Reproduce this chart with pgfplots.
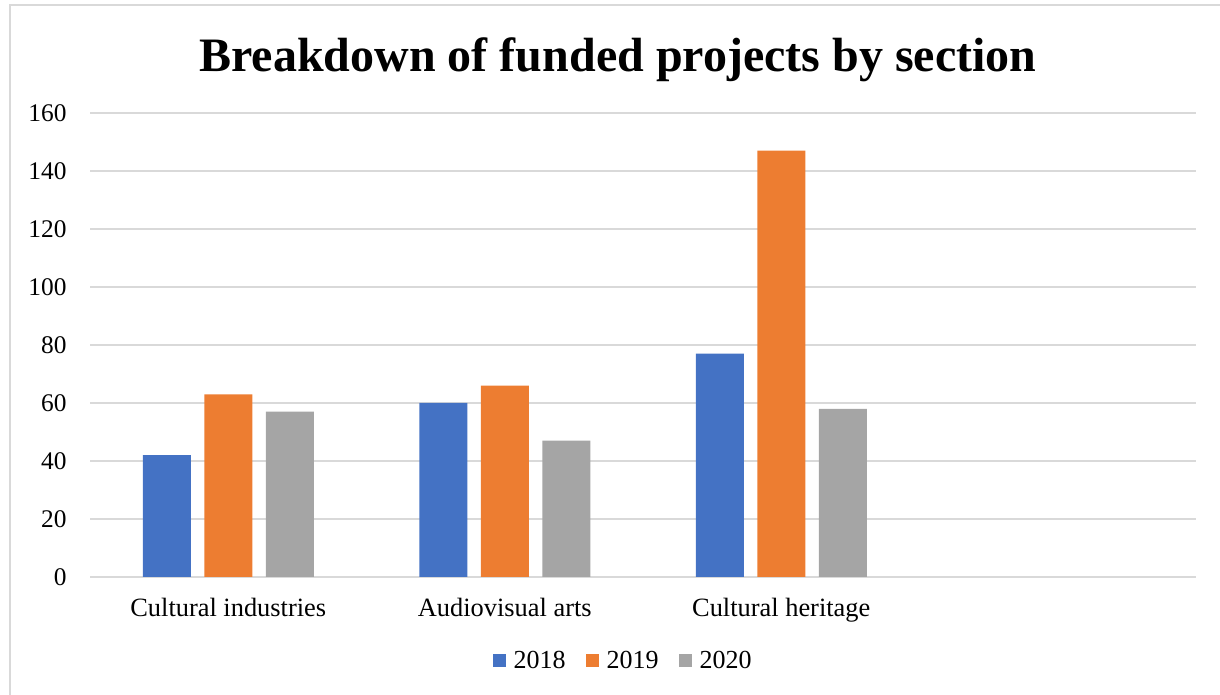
\documentclass[border=0pt]{standalone}
\usepackage{fontspec}
\setmainfont{Liberation Serif}
\usepackage{pgfplots}
\pgfplotsset{compat=1.18}
\definecolor{cblue}{HTML}{4472C4}
\definecolor{corange}{HTML}{ED7D31}
\definecolor{cgray}{HTML}{A5A5A5}
\definecolor{gridgray}{HTML}{D9D9D9}
\begin{document}
\begin{tikzpicture}
\useasboundingbox (0pt,0pt) rectangle (610pt,347.5pt);
\draw[gridgray, line width=1.2pt] (5pt,0pt) -- (5pt,345pt) -- (610pt,345pt);
\node[anchor=base, inner sep=0pt] at (309pt,311.5pt) {\fontsize{24}{28}\selectfont\bfseries Breakdown of funded projects by section};
\begin{axis}[
  at={(45pt,59pt)}, anchor=south west,
  scale only axis, width=553pt, height=232pt,
  ybar=6.75pt, bar width=24pt,
  xmin=-0.5, xmax=3.5, ymin=0, ymax=160,
  xtick={0,1,2},
  xticklabels={Cultural industries, Audiovisual arts, Cultural heritage},
  ytick={0,20,...,160},
  ymajorgrids, major grid style={color=gridgray, line width=0.9pt},
  axis line style={draw=none}, tick style={draw=none},
  /pgf/number format/assume math mode=true,
  yticklabel style={inner sep=0pt, anchor=east, font=\fontsize{12.7}{14}\selectfont},
  yticklabel shift=11.5pt,
  xticklabel style={inner sep=0pt, anchor=north, font=\fontsize{13.2}{15}\selectfont},
  xticklabel shift=6pt,
  legend style={at={(0.4825,-0.181)}, anchor=center, draw=none,
    legend columns=3, font=\fontsize{13}{15}\selectfont,
    /tikz/every even column/.append style={column sep=8.5pt},
    /tikz/every odd column/.append style={column sep=2.5pt},
    nodes={inner sep=1.5pt}},
  legend image code/.code={\fill[#1] (0pt,-3.2pt) rectangle (6.5pt,3.3pt);},
]
\addplot[fill=cblue, draw=none] coordinates {(0,42) (1,60) (2,77)};
\addplot[fill=corange, draw=none] coordinates {(0,63) (1,66) (2,147)};
\addplot[fill=cgray, draw=none] coordinates {(0,57) (1,47) (2,58)};
\legend{2018,2019,2020}
\end{axis}
\end{tikzpicture}
\end{document}
